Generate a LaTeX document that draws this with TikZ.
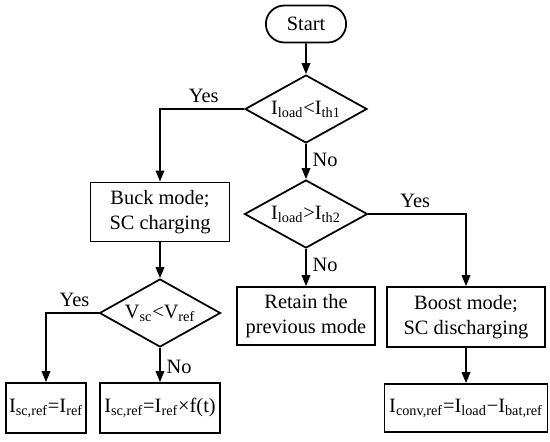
\documentclass[tikz,border=0pt]{standalone}
\usepackage{fontspec}
\setmainfont{Liberation Serif}
\usepackage{tikz}
\usetikzlibrary{positioning,arrows.meta,shapes.geometric,shapes.misc}

\begin{document}
\begin{tikzpicture}[
  x=0.02cm, y=-0.02cm,
  font=\fontsize{11.6}{14}\selectfont,
  line width=1pt,
  flowbox/.style={draw, rectangle, align=center, inner sep=1pt,
                  minimum width=#1*0.02cm},
  decide/.style={draw, diamond, aspect=1.8, inner sep=0pt,
                 minimum width=#1*0.02cm, minimum height=1.36cm},
  flow/.style={-{Triangle[length=2.2mm,width=1.7mm]}}
]
\useasboundingbox (0,0) rectangle (550,441);

% start and first test
\node[draw, rounded rectangle, minimum width=1.84cm, minimum height=0.74cm] (start) at (306,24) {Start};
\node[decide=122] (load1) at (306,109) {I\textsubscript{load}<I\textsubscript{th1}};

% left branch
\node[flowbox=139, minimum height=1.18cm] (buck) at (160,212) {Buck mode;\\SC charging};
\node[decide=121] (vsc) at (160,313) {V\textsubscript{sc}<V\textsubscript{ref}};
\node[flowbox=80, minimum height=1.0cm] (iscA) at (46,408) {I\textsubscript{sc,ref}=I\textsubscript{ref}};
\node[flowbox=120, minimum height=1.0cm] (iscB) at (160,408) {I\textsubscript{sc,ref}=I\textsubscript{ref}×f(t)};

% right branch
\node[decide=123] (load2) at (306,214) {I\textsubscript{load}>I\textsubscript{th2}};
\node[flowbox=138, minimum height=1.16cm] (retain) at (306,316) {Retain the\\previous mode};
\node[flowbox=158, minimum height=1.2cm] (boost) at (466,317) {Boost mode;\\SC discharging};
\node[flowbox=163, minimum height=0.96cm] (iconv) at (466,408) {I\textsubscript{conv,ref}=I\textsubscript{load}−I\textsubscript{bat,ref}};

% connectors
\draw[flow] (start) -- (load1);
\draw[flow] (load1.west) -| node[above, pos=0.24] {Yes} (buck.north);
\draw[flow] (load1.south) -- node[right, pos=0.45] {No} (load2.north);
\draw[flow] (buck) -- (vsc);
\draw[flow] (vsc.west) -| node[above, pos=0.23] {Yes} (iscA.north);
\draw[flow] (vsc.south) -- node[right, pos=0.57] {No} (iscB.north);
\draw[flow] (load2.south) -- node[right, pos=0.44] {No} (retain.north);
\draw[flow] (load2.east) -| node[above, pos=0.24] {Yes} (boost.north);
\draw[flow] (boost) -- (iconv);

\end{tikzpicture}
\end{document}
